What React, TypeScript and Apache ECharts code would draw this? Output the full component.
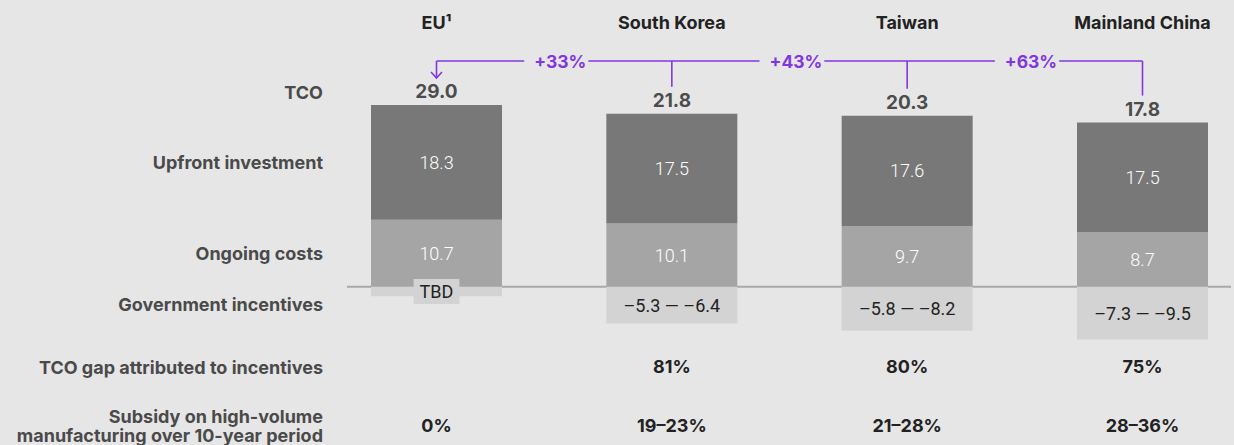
import React, { useEffect, useRef } from "react";
import * as echarts from "echarts";

const categories = ["EU", "South Korea", "Taiwan", "Mainland China"];
const headerLabels = ["EU¹", "South Korea", "Taiwan", "Mainland China"];
const upfront = [18.3, 17.5, 17.6, 17.5];
const ongoing = [10.7, 10.1, 9.7, 8.7];
// drawn depth of the incentives box (EU is a placeholder for "TBD")
const incentiveMid = [-1.5, -5.85, -7.0, -8.4];
const incentiveLabels = ["TBD", "–5.3 — –6.4", "–5.8 — –8.2", "–7.3 — –9.5"];
const tcoLabels = ["29.0", "21.8", "20.3", "17.8"];
const tcoGap = ["", "81%", "80%", "75%"];
const subsidy = ["0%", "19–23%", "21–28%", "28–36%"];
const tcoPremium = ["+33%", "+43%", "+63%"];
const rowLabels = [
  { text: "TCO", y: 92 },
  { text: "Upfront investment", y: 162 },
  { text: "Ongoing costs", y: 253 },
  { text: "Government incentives", y: 304 },
  { text: "TCO gap attributed to incentives", y: 367 },
  { text: "Subsidy on high-volume", y: 416 },
  { text: "manufacturing over 10-year period", y: 435 },
];

const BG = "#e6e6e6";
const DARK = "#787878";
const MID = "#a5a5a5";
const LIGHT = "#d3d3d3";
const PURPLE = "#8236e0";
const BOLD_FONT = "Inter, 'Noto Sans', sans-serif";
const NUM_FONT = "Roboto, 'Noto Sans', sans-serif";

export default function App() {
  const ref = useRef<HTMLDivElement>(null);
  useEffect(() => {
    document.body.style.margin = "0";
    const chart = echarts.init(ref.current!, undefined, { renderer: "svg" });
    const totals = upfront.map((u, i) => +(u + ongoing[i]).toFixed(2));
    const hiddenAxis = {
      type: "category" as const,
      data: categories,
      boundaryGap: false,
      axisLine: { show: false },
      axisTick: { show: false },
      splitLine: { show: false },
    };
    const boldLabel = {
      interval: 0,
      fontFamily: BOLD_FONT,
      fontWeight: "bold" as const,
      fontSize: 18,
      color: "#222",
    };
    chart.setOption({
      animation: false,
      backgroundColor: BG,
      grid: { left: 436.5, right: 91.5, top: 36, height: 313.5 },
      xAxis: [
        {
          ...hiddenAxis,
          position: "top",
          axisLabel: { ...boldLabel, margin: 5, formatter: (_: string, i: number) => headerLabels[i] },
        },
        {
          ...hiddenAxis,
          position: "bottom",
          axisLabel: { ...boldLabel, margin: 8, formatter: (_: string, i: number) => tcoGap[i] },
        },
        {
          ...hiddenAxis,
          position: "bottom",
          offset: 60,
          axisLabel: { ...boldLabel, margin: 7, formatter: (_: string, i: number) => subsidy[i] },
        },
      ],
      yAxis: { type: "value", min: -10, max: 40, show: false },
      series: [
        {
          name: "Ongoing costs",
          type: "bar",
          stack: "tco",
          barWidth: 131,
          clip: false,
          data: ongoing,
          itemStyle: { color: MID },
          label: {
            show: true,
            position: "inside",
            color: "#fff",
            fontFamily: NUM_FONT,
            fontWeight: 300,
            fontSize: 18,
          },
          z: 2,
        },
        {
          name: "Upfront investment",
          type: "bar",
          stack: "tco",
          barWidth: 131,
          clip: false,
          data: upfront,
          itemStyle: { color: DARK },
          label: {
            show: true,
            position: "inside",
            color: "#fff",
            fontFamily: NUM_FONT,
            fontWeight: 300,
            fontSize: 18,
          },
          z: 2,
        },
        {
          name: "Government incentives",
          type: "bar",
          stack: "tco",
          barWidth: 131,
          clip: false,
          data: incentiveMid.map((v, i) =>
            i === 0
              ? {
                  value: v,
                  label: { backgroundColor: LIGHT, padding: [4, 6, 3, 6] },
                }
              : v
          ),
          itemStyle: { color: LIGHT },
          label: {
            show: true,
            position: "inside",
            color: "#222",
            fontFamily: NUM_FONT,
            fontSize: 18,
            formatter: (p: any) => incentiveLabels[p.dataIndex],
          },
          z: 2,
        },
        {
          name: "TCO",
          type: "scatter",
          data: totals,
          symbolSize: 0,
          clip: false,
          silent: true,
          label: {
            show: true,
            position: "top",
            distance: 4,
            color: "#222",
            fontFamily: BOLD_FONT,
            fontWeight: "bold",
            fontSize: 19,
            formatter: (p: any) => tcoLabels[p.dataIndex],
          },
        },
      ],
    });

    const xs = categories.map((_, i) => chart.convertToPixel({ xAxisIndex: 0 }, i) as number);
    const tops = totals.map((t) => chart.convertToPixel({ yAxisIndex: 0 }, t) as number);
    const y0 = chart.convertToPixel({ yAxisIndex: 0 }, 0) as number;
    const yc = 61;
    const lineStyle = { stroke: PURPLE, lineWidth: 1.6 };
    const graphics: any[] = [
      {
        type: "line",
        z: 0,
        shape: { x1: 347, y1: y0, x2: 1231, y2: y0 },
        style: { stroke: "#a9a9a9", lineWidth: 2 },
      },
      {
        type: "line",
        z: 10,
        shape: { x1: xs[0], y1: yc, x2: xs[3], y2: yc },
        style: lineStyle,
      },
    ];
    xs.forEach((x, i) => {
      const end = tops[i] - 27;
      graphics.push({
        type: "line",
        z: 10,
        shape: { x1: x, y1: yc, x2: x, y2: end },
        style: lineStyle,
      });
      if (i === 0) {
        graphics.push({
          type: "polyline",
          z: 10,
          shape: { points: [[x - 5.5, end - 6], [x, end], [x + 5.5, end - 6]] },
          style: { ...lineStyle, fill: "none" },
        });
      }
    });
    tcoPremium.forEach((t, i) => {
      const mid = (xs[i] + xs[i + 1]) / 2;
      graphics.push({
        type: "text",
        z: 11,
        x: mid - 30,
        y: yc,
        style: {
          text: t,
          fill: PURPLE,
          fontFamily: BOLD_FONT,
          fontWeight: "bold",
          fontSize: 17.5,
          align: "left",
          verticalAlign: "middle",
          backgroundColor: BG,
          padding: [2, 2, 2, 10],
        },
      });
    });
    rowLabels.forEach((r) => {
      graphics.push({
        type: "text",
        z: 5,
        x: 323,
        y: r.y,
        style: {
          text: r.text,
          fill: "#4a4a4a",
          fontFamily: BOLD_FONT,
          fontWeight: "bold",
          fontSize: 18,
          align: "right",
          verticalAlign: "middle",
        },
      });
    });
    chart.setOption({ graphic: graphics });

    return () => chart.dispose();
  }, []);
  return (
    <div
      ref={ref}
      style={{ position: "fixed", left: 0, top: 0, width: 1234, height: 445, background: BG }}
    />
  );
}
